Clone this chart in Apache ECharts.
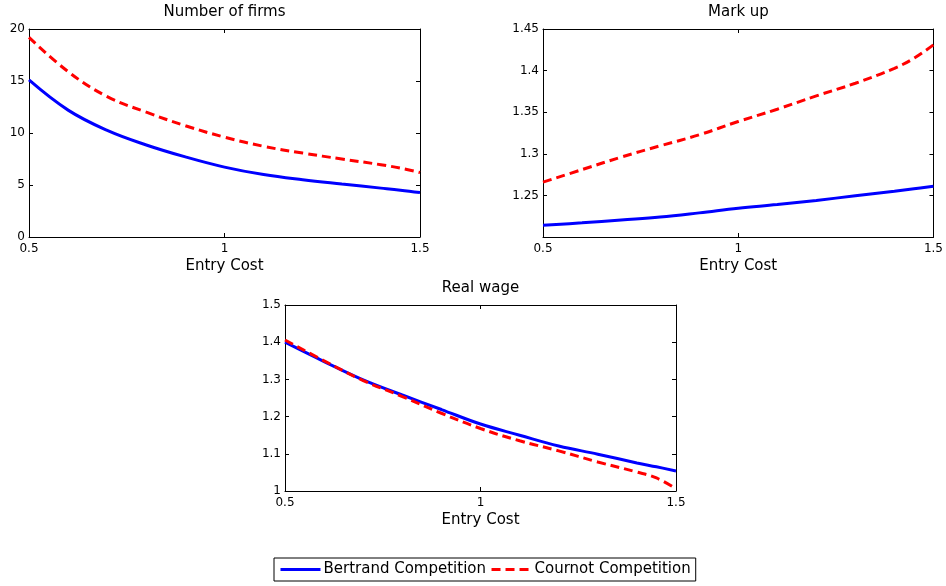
<!DOCTYPE html>
<html><head><meta charset="utf-8">
<script src="https://cdn.jsdelivr.net/npm/echarts@6/dist/echarts.min.js"></script>
<style>html,body{margin:0;padding:0;background:#fff}#c{width:946px;height:586px}</style>
</head><body><div id="c"></div>
<script>
const entryCost = [0.5,0.6,0.7,0.8,0.9,1.0,1.1,1.2,1.3,1.4,1.45,1.5];
const firmsBertrand = [15.1,12.2,10.25,8.85,7.7,6.72,6.0,5.5,5.09,4.7,4.5,4.27];
const firmsCournot  = [19.2,15.9,13.5,12.0,10.7,9.6,8.72,8.07,7.5,6.95,6.62,6.2];
const markupBertrand = [1.214,1.217,1.2205,1.224,1.229,1.2345,1.239,1.244,1.2495,1.255,1.258,1.261];
const markupCournot  = [1.266,1.281,1.296,1.3096,1.3228,1.3388,1.3536,1.3696,1.3848,1.4028,1.4148,1.431];
const wageBertrand = [1.400,1.348,1.2986,1.258,1.219,1.180,1.150,1.121,1.099,1.0755,1.065,1.054];
const wageCournot  = [1.406,1.350,1.297,1.254,1.209,1.168,1.135,1.108,1.078,1.051,1.035,1.006];
const xTicks = [0.5, 1, 1.5];
const panelTitles = ['Number of firms','Mark up','Real wage'];
const seriesNames = ['Bertrand Competition','Cournot Competition'];

const FONT = 'DejaVu Sans';
const pairs = (ys) => entryCost.map((x,i)=>[x, ys[i]]);
const grids = [
  {left:29, top:29, width:391, height:208},
  {left:543, top:29, width:391, height:208},
  {left:285, top:305, width:391, height:186}
];
const yCfg = [
  {min:0, max:20, interval:5, hideMin:false},
  {min:1.2, max:1.45, interval:0.05, hideMin:true},
  {min:1, max:1.5, interval:0.1, hideMin:false}
];
const data = [[firmsBertrand, firmsCournot],[markupBertrand, markupCournot],[wageBertrand, wageCournot]];

const xAxis = [], yAxis = [], series = [], title = [];
grids.forEach((g,i)=>{
  title.push({text: panelTitles[i], left: g.left + g.width/2, top: g.top - 24, textAlign:'center', padding:0,
    textStyle:{fontFamily:FONT, fontSize:15, fontWeight:'normal', color:'#000'}});
  const common = {type:'value', gridIndex:i, min:0.5, max:1.5, interval:0.5,
    axisLine:{show:true, onZero:false, lineStyle:{color:'#000', width:1}}, splitLine:{show:false},
    axisTick:{show:true, inside:true, length:4, lineStyle:{color:'#000'}}};
  xAxis.push(Object.assign({}, common, {position:'bottom',
    name:'Entry Cost', nameLocation:'middle', nameGap:22,
    nameTextStyle:{fontFamily:FONT, fontSize:15, color:'#000'},
    axisLabel:{fontFamily:FONT, fontSize:12, color:'#000', margin:6, formatter:(v)=> xTicks.includes(v)? String(v):''}}));
  xAxis.push(Object.assign({}, common, {position:'top', axisLabel:{show:false}}));
  const yc = yCfg[i];
  const ycommon = {type:'value', gridIndex:i, min:yc.min, max:yc.max, interval:yc.interval,
    axisLine:{show:true, onZero:false, lineStyle:{color:'#000', width:1}}, splitLine:{show:false},
    axisTick:{show:true, inside:true, length:4, lineStyle:{color:'#000'}}};
  yAxis.push(Object.assign({}, ycommon, {position:'left',
    axisLabel:{fontFamily:FONT, fontSize:12, color:'#000', margin:4, showMinLabel: !yc.hideMin,
      formatter:(v)=> String(parseFloat(v.toFixed(2)))}}));
  yAxis.push(Object.assign({}, ycommon, {position:'right', axisLabel:{show:false}}));
  series.push({name:seriesNames[0], type:'line', xAxisIndex:2*i, yAxisIndex:2*i, data:pairs(data[i][0]),
    smooth:0.4, symbol:'none', lineStyle:{color:'#0000ff', width:3}, itemStyle:{color:'#0000ff'}, z:2});
  series.push({name:seriesNames[1], type:'line', xAxisIndex:2*i, yAxisIndex:2*i, data:pairs(data[i][1]),
    smooth:0.4, symbol:'none', lineStyle:{color:'#ff0000', width:3, type:[9,5]}, itemStyle:{color:'#ff0000'}, z:3});
});

const chart = echarts.init(document.getElementById('c'), null, {renderer:'canvas'});
chart.setOption({
  animation:false,
  backgroundColor:'#fff',
  title,
  grid: grids.map(g=>Object.assign({containLabel:false}, g)),
  xAxis, yAxis, series,
  legend:{data:seriesNames, left:274, top:558, orient:'horizontal',
    padding:[4,5], itemGap:4, itemWidth:40, itemHeight:14,
    itemStyle:{opacity:0}, lineStyle:{width:3},
    borderColor:'#000', borderWidth:1, backgroundColor:'#fff',
    textStyle:{fontFamily:FONT, fontSize:15, color:'#000', padding:[0,0,0,-2]}}
});
</script></body></html>
